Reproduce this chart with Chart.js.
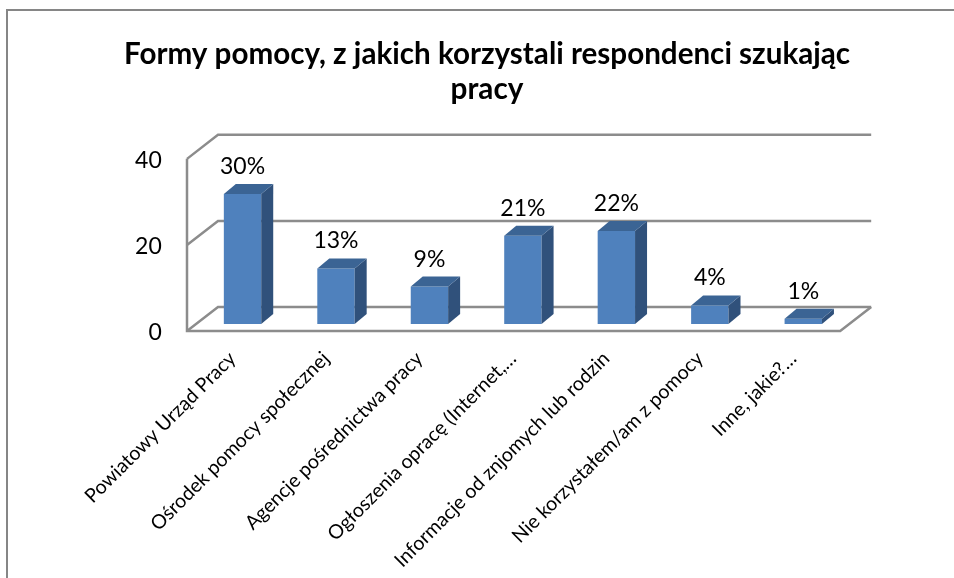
<!DOCTYPE html>
<html>
<head>
<meta charset="utf-8">
<title>Formy pomocy</title>
<script src="https://cdn.jsdelivr.net/npm/chart.js@4"></script>
<style>
  html, body { margin: 0; background: #fff; overflow: hidden; }
  #frame { position: absolute; left: 6px; top: 9px; width: 960px; height: 600px; border: 2px solid #868686; box-sizing: border-box; }
  #wrap { position: absolute; left: 0; top: 0; width: 954px; height: 578px; }
</style>
</head>
<body>
<div id="frame"></div>
<div id="wrap"><canvas id="chart"></canvas></div>
<script>
const categories = [
  "Powiatowy Urząd Pracy",
  "Ośrodek pomocy społecznej",
  "Agencje pośrednictwa pracy",
  "Ogłoszenia opracę (Internet,…",
  "Informacje od znjomych lub rodzin",
  "Nie korzystałem/am z pomocy",
  "Inne, jakie?…"
];
const values = [30.2, 12.9, 8.7, 20.5, 21.6, 4.3, 1.2];
const valueLabels = ["30%", "13%", "9%", "21%", "22%", "4%", "1%"];
const yTicks = [0, 20, 40];

const FONT = "Lato, Carlito, Calibri, sans-serif";
const WALL_DX = 31, WALL_DY = -24;   // depth of the wall box
const BAR_DX = 12, BAR_DY = -10;     // depth of one bar
const FLOOR_SHIFT = 8.8;             // bars sit this far in from the front edge
const GRID = "#8c8c8c";

function poly(ctx, pts, fill) {
  ctx.beginPath();
  pts.forEach((p, i) => i ? ctx.lineTo(p[0], p[1]) : ctx.moveTo(p[0], p[1]));
  ctx.closePath();
  ctx.fillStyle = fill;
  ctx.fill();
}

// walls and grid lines, from the y axis and the x axis
const wallsPlugin = {
  id: "walls",
  beforeDatasetsDraw(chart) {
    const ctx = chart.ctx, y = chart.scales.y, x = chart.scales.x;
    const left = x.left - FLOOR_SHIFT, right = x.right - FLOOR_SHIFT - 1;
    ctx.save();
    ctx.strokeStyle = GRID;
    ctx.lineWidth = 2.5;
    yTicks.forEach(t => {
      const py = y.getPixelForValue(t);
      ctx.beginPath();
      ctx.moveTo(left, py);
      ctx.lineTo(left + WALL_DX, py + WALL_DY);
      ctx.lineTo(right + WALL_DX, py + WALL_DY);
      ctx.stroke();
    });
    const y0 = y.getPixelForValue(0);
    ctx.beginPath();
    ctx.moveTo(left, y.getPixelForValue(40));
    ctx.lineTo(left, y0);
    ctx.lineTo(right, y0);
    ctx.lineTo(right + WALL_DX, y0 + WALL_DY);
    ctx.stroke();
    ctx.restore();
  },
  // bar sides and percent labels
  afterDatasetsDraw(chart) {
    const ctx = chart.ctx;
    ctx.save();
    chart.getDatasetMeta(0).data.forEach((bar, i) => {
      const l = bar.x - bar.width / 2, r = bar.x + bar.width / 2;
      poly(ctx, [[r, bar.y], [r + BAR_DX, bar.y + BAR_DY], [r + BAR_DX, bar.base + BAR_DY], [r, bar.base]], "#30517b");
      poly(ctx, [[l, bar.y], [l + BAR_DX, bar.y + BAR_DY], [r + BAR_DX, bar.y + BAR_DY], [r, bar.y]], "#3b6494");
      ctx.fillStyle = "#000";
      ctx.font = "23px " + FONT;
      ctx.textAlign = "center";
      ctx.textBaseline = "alphabetic";
      ctx.fillText(valueLabels[i], bar.x, bar.y - 20);
    });
    ctx.restore();
  }
};

new Chart(document.getElementById("chart"), {
  type: "bar",
  data: {
    labels: categories,
    datasets: [{
      data: values,
      yAxisID: "yBars",
      backgroundColor: "#4f81bd",
      barPercentage: 0.4,
      categoryPercentage: 1
    }]
  },
  options: {
    responsive: true,
    maintainAspectRatio: false,
    animation: false,
    layout: { padding: { left: 124, right: 104, top: 0, bottom: 0 } },
    plugins: {
      legend: { display: false },
      tooltip: { enabled: false },
      title: {
        display: true,
        text: ["Formy pomocy, z jakich korzystali respondenci szukając", "pracy"],
        color: "#000",
        font: { family: FONT, size: 29.7, weight: "bold", lineHeight: 1.21 },
        padding: { top: 36, bottom: 51 }
      }
    },
    scales: {
      x: {
        grid: { display: false },
        border: { display: false },
        ticks: {
          color: "#000",
          font: { family: FONT, size: 19.6 },
          minRotation: 45,
          maxRotation: 45,
          autoSkip: false,
          padding: 8,
          labelOffset: -10
        },
        afterFit(scale) {
          scale.height = 247;
          scale.paddingLeft = 0;
          scale.paddingRight = 0;
        }
      },
      y: {
        min: 0,
        max: 40,
        grid: { display: false, drawTicks: false },
        border: { display: false },
        afterBuildTicks(scale) { scale.ticks = yTicks.map(v => ({ value: v })); },
        ticks: { color: "#000", font: { family: FONT, size: 23 }, padding: 34, labelOffset: 2 },
        afterFit(scale) { scale.width = 71.8; }
      },
      // same unit size as y, with zero lifted to the back of the floor
      yBars: { display: false, min: -1.63, max: 38.37 }
    }
  },
  plugins: [wallsPlugin]
});
</script>
</body>
</html>
